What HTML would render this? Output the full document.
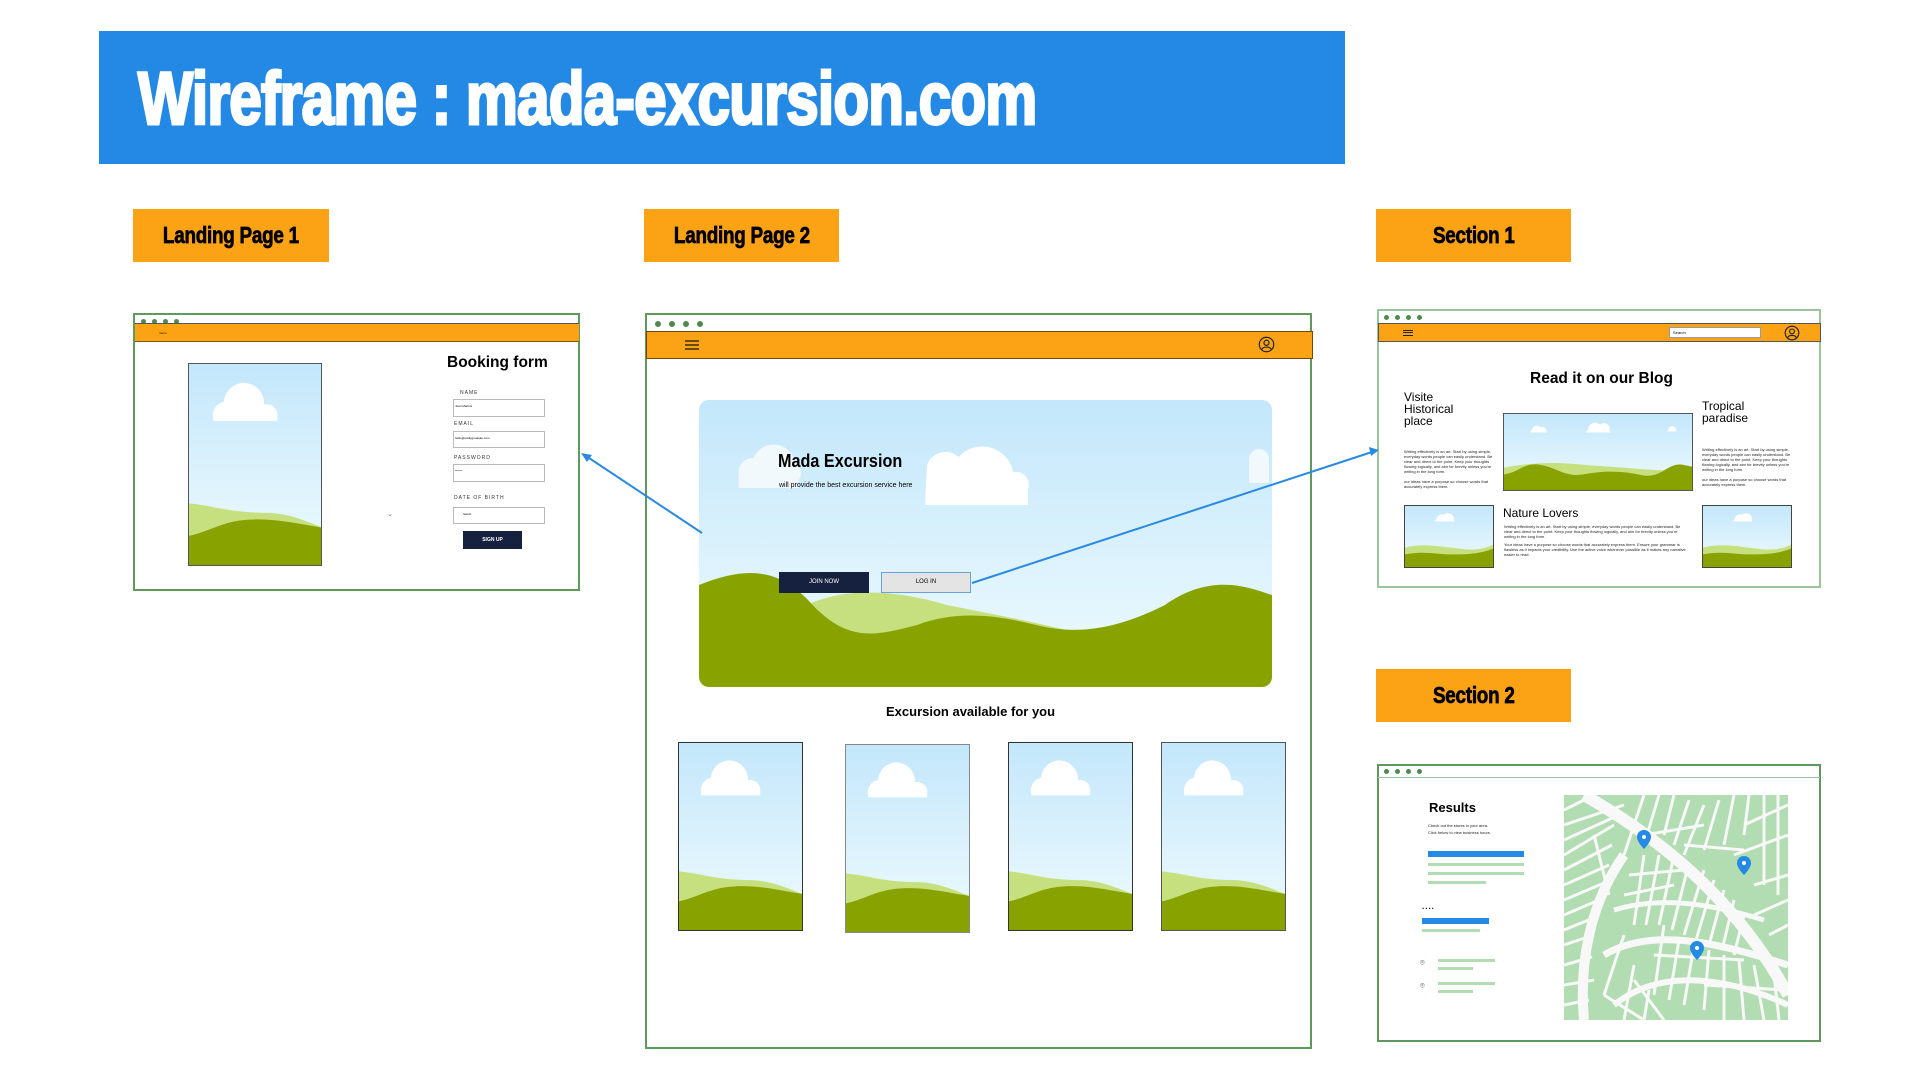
<!DOCTYPE html>
<html><head><meta charset="utf-8"><style>
*{margin:0;padding:0;box-sizing:border-box}
body{width:1920px;height:1080px;background:#fff;position:relative;overflow:hidden;font-family:"Liberation Sans",sans-serif}
.a{position:absolute}
.lbl{position:absolute;background:#fba314;height:53px;display:flex;align-items:center;justify-content:center}
.lbl span{font-weight:bold;font-size:23px;color:#000;display:inline-block;transform:scaleX(.82);letter-spacing:-.3px;-webkit-text-stroke:.7px #000}
.frame{position:absolute;border:2px solid #5e9a5e;background:#fff}
.dots{position:absolute;display:flex;gap:6px}
.dots i{width:5px;height:5px;border-radius:50%;background:#4e8a4e;display:block}
.bar{position:absolute;background:#fba314;border-top:1px solid #555;border-bottom:1px solid #7a5a10}
.inp{position:absolute;border:1px solid #bbb;background:#fff;font-size:3px;padding:4px 1px}
.flab{position:absolute;font-size:5px;letter-spacing:1px;color:#333}
.g{position:absolute;background:#b2dcb2}
.b{position:absolute;background:#248ae6}
.tiny{position:absolute;font-size:4px;line-height:5px;color:#222}
</style></head><body>
<svg width="0" height="0" style="position:absolute">
<defs>
<linearGradient id="sky" x1="0" y1="0" x2="0" y2="1"><stop offset="0" stop-color="#c3e7fb"/><stop offset="1" stop-color="#f0fbfe"/></linearGradient>
<symbol id="port" viewBox="0 0 100 150" preserveAspectRatio="none">
<rect width="100" height="150" fill="url(#sky)"/>
<path d="M18 40a10 10 0 0 1 8-12a15 15 0 0 1 30 2a8 8 0 0 1 10 9v3H18z" fill="#fff"/>
<path d="M0 103 C20 105 30 110 60 110 C75 111 85 115 100 121 V150 H0z" fill="#c6e07f"/>
<path d="M0 127 C15 124 25 116 45 115 C65 114 80 118 100 121 V150 H0z" fill="#88a300"/>
</symbol>
<symbol id="land" viewBox="0 0 190 78" preserveAspectRatio="none">
<rect width="190" height="78" fill="url(#sky)"/>
<path d="M85 16a7 7 0 0 1 12-5a6 6 0 0 1 10 4v4H82z" fill="#fff"/>
<path d="M28 17a5 5 0 0 1 9-3a4 4 0 0 1 6 3v2H26z" fill="#fff"/>
<path d="M166 17a4 4 0 0 1 8-1v2h-10z" fill="#fff"/>
<path d="M0 55 C40 48 60 50 90 53 C130 55 160 60 190 57 V78 H0z" fill="#c6e07f"/>
<path d="M0 62 C15 60 20 50 35 52 C55 55 60 65 80 62 C100 58 120 58 140 63 C160 66 165 50 180 52 L190 54 V78 H0z" fill="#88a300"/>
</symbol>
<symbol id="small" viewBox="0 0 90 63" preserveAspectRatio="none">
<rect width="90" height="63" fill="url(#sky)"/>
<path d="M32 14a6 6 0 0 1 8-5a6 6 0 0 1 10 4v3H30z" fill="#fff"/>
<path d="M0 43 C20 38 35 42 55 44 C70 46 80 45 90 40 V63 H0z" fill="#c6e07f"/>
<path d="M0 50 C20 46 30 50 50 50 C70 50 80 48 90 44 V63 H0z" fill="#88a300"/>
</symbol>
<symbol id="user" viewBox="0 0 20 20"><circle cx="10" cy="10" r="8.5" fill="none" stroke="#222" stroke-width="1.4"/><circle cx="10" cy="8" r="3" fill="none" stroke="#222" stroke-width="1.4"/><path d="M4.5 16c1-4 10-4 11 0" fill="none" stroke="#222" stroke-width="1.4"/></symbol>
</defs></svg>

<!-- banner -->
<div class="a" style="left:99px;top:31px;width:1246px;height:133px;background:#2389e4"></div>
<div class="a" style="left:138px;top:62px;white-space:nowrap;color:#fff;font-weight:bold;font-size:74px;line-height:74px;transform-origin:left top;transform:scaleX(.79);letter-spacing:-1px;-webkit-text-stroke:3px #fff">Wireframe : mada-excursion.com</div>

<div class="lbl" style="left:133px;top:209px;width:196px"><span>Landing Page 1</span></div>
<div class="lbl" style="left:644px;top:209px;width:195px"><span>Landing Page 2</span></div>
<div class="lbl" style="left:1376px;top:209px;width:195px"><span>Section 1</span></div>
<div class="lbl" style="left:1376px;top:669px;width:195px"><span>Section 2</span></div>

<!-- LP1 -->
<div class="frame" style="left:133px;top:313px;width:447px;height:278px"></div>
<div class="dots" style="left:141px;top:319px"><i></i><i></i><i></i><i></i></div>
<div class="bar" style="left:135px;top:323px;width:444px;height:19px"></div>
<div class="a" style="left:159px;top:331px;font-size:3px">menu</div>
<svg class="a" style="left:188px;top:363px;border:1px solid #555" width="134" height="203"><use href="#port" width="134" height="203"/></svg>
<div class="a" style="left:447px;top:354px;font-size:15.5px;font-weight:bold">Booking form</div>
<div class="flab" style="left:460px;top:390px">NAME</div>
<div class="inp" style="left:453px;top:399px;width:92px;height:18px">Joan Martins</div>
<div class="flab" style="left:454px;top:421px">EMAIL</div>
<div class="inp" style="left:453px;top:431px;width:92px;height:17px">hello@reallygreatsite.com</div>
<div class="flab" style="left:454px;top:455px">PASSWORD</div>
<div class="inp" style="left:453px;top:464px;width:92px;height:18px">******</div>
<div class="flab" style="left:454px;top:495px">DATE OF BIRTH</div>
<div class="inp" style="left:453px;top:507px;width:92px;height:17px;padding-left:9px">Select</div>
<div class="a" style="left:387px;top:510px;font-size:7px;color:#777">⌄</div>
<div class="a" style="left:463px;top:531px;width:59px;height:18px;background:#15213e;color:#fff;font-size:5px;font-weight:bold;text-align:center;line-height:18px">SIGN UP</div>

<!-- LP2 -->
<div class="frame" style="left:645px;top:313px;width:667px;height:736px"></div>
<div class="dots" style="left:655px;top:321px;gap:8px"><i style="width:6px;height:6px"></i><i style="width:6px;height:6px"></i><i style="width:6px;height:6px"></i><i style="width:6px;height:6px"></i></div>
<div class="bar" style="left:646px;top:331px;width:667px;height:28px;border:1px solid #6a4a10"></div>
<div class="a" style="left:685px;top:340px;width:14px;height:10px;border-top:2px solid #6a4a10;border-bottom:2px solid #6a4a10"></div>
<div class="a" style="left:685px;top:344px;width:14px;height:2px;background:#6a4a10"></div>
<svg class="a" style="left:1258px;top:336px" width="17" height="17"><use href="#user"/></svg>
<svg class="a" style="left:699px;top:400px" width="573" height="287" viewBox="0 0 578 287" preserveAspectRatio="none">
<defs><clipPath id="hc"><rect width="578" height="287" rx="10"/></clipPath></defs>
<g clip-path="url(#hc)">
<rect width="578" height="287" fill="url(#sky)"/>
<path d="M40 70a14 14 0 0 1 15-12a22 22 0 0 1 42 5a12 12 0 0 1 3 18v7H40z" fill="#f2f9fd"/>
<path d="M230 65a20 20 0 0 1 32-8a32 32 0 0 1 55 15a13 13 0 0 1 15 17v16H228z" fill="#fff"/>
<path d="M555 62a10 10 0 0 1 20-5v26h-20z" fill="#f2f9fd"/>
<path d="M100 210 C140 185 200 190 250 205 C300 215 330 220 370 230 L380 300 H0z" fill="#c6e07f"/>
<path d="M0 185 C50 165 80 170 110 200 C150 245 180 235 220 225 C260 210 300 215 340 225 C380 235 420 230 470 205 C520 170 560 190 578 195 V287 H0z" fill="#88a300"/>
</g></svg>
<div class="a" style="left:778px;top:451px;font-size:18px;font-weight:bold;transform-origin:left;transform:scaleX(.9);white-space:nowrap">Mada Excursion</div>
<div class="a" style="left:779px;top:482px;font-size:7px;white-space:nowrap">will provide the best excursion service here</div>
<div class="a" style="left:779px;top:572px;width:90px;height:21px;background:#15213e;color:#fff;font-size:6px;text-align:center;line-height:21px">JOIN NOW</div>
<div class="a" style="left:881px;top:572px;width:90px;height:21px;background:#e4e4e4;border:1px solid #6aa0e0;font-size:6px;text-align:center;line-height:19px">LOG IN</div>
<div class="a" style="left:886px;top:704px;font-size:13px;font-weight:bold;white-space:nowrap">Excursion available for you</div>
<svg class="a" style="left:678px;top:742px;border:1px solid #333" width="125" height="189"><use href="#port" width="123" height="187"/></svg>
<svg class="a" style="left:845px;top:744px;border:1px solid #888" width="125" height="189"><use href="#port" width="123" height="187"/></svg>
<svg class="a" style="left:1008px;top:742px;border:1px solid #333" width="125" height="189"><use href="#port" width="123" height="187"/></svg>
<svg class="a" style="left:1161px;top:742px;border:1px solid #555" width="125" height="189"><use href="#port" width="123" height="187"/></svg>

<!-- Section 1 -->
<div class="frame" style="left:1377px;top:309px;width:444px;height:279px;border-color:#9cc49c"></div>
<div class="dots" style="left:1384px;top:315px"><i></i><i></i><i></i><i></i></div>
<div class="bar" style="left:1378px;top:323px;width:443px;height:19px;border:1px solid #555"></div>
<div class="a" style="left:1403px;top:330px;width:10px;height:6px;border-top:1px solid #222;border-bottom:1px solid #222"></div>
<div class="a" style="left:1403px;top:332px;width:10px;height:1px;background:#222"></div>
<div class="a" style="left:1669px;top:327px;width:92px;height:11px;background:#fff;border:1px solid #999;font-size:4px;padding:2px 3px">Search</div>
<svg class="a" style="left:1784px;top:325px" width="16" height="16"><use href="#user"/></svg>
<div class="a" style="left:1530px;top:370px;font-size:15.5px;font-weight:bold;white-space:nowrap">Read it on our Blog</div>
<div class="a" style="left:1404px;top:391px;font-size:12px;line-height:12px">Visite<br>Historical<br>place</div>
<div class="a" style="left:1702px;top:400px;font-size:12px;line-height:12px">Tropical<br>paradise</div>
<svg class="a" style="left:1503px;top:413px;border:1px solid #555" width="190" height="78"><use href="#land" width="188" height="76"/></svg>
<div class="tiny" style="left:1404px;top:449px;width:90px">Writing effectively is an art. Start by using simple, everyday words people can easily understand. Be clear and direct to the point. Keep your thoughts flowing logically, and aim for brevity unless you're writing in the long form.<br><br>our ideas have a purpose so choose words that accurately express them.</div>
<div class="tiny" style="left:1702px;top:447px;width:90px">Writing effectively is an art. Start by using simple, everyday words people can easily understand. Be clear and direct to the point. Keep your thoughts flowing logically, and aim for brevity unless you're writing in the long form.<br><br>our ideas have a purpose so choose words that accurately express them.</div>
<svg class="a" style="left:1404px;top:505px;border:1px solid #444" width="90" height="63"><use href="#small" width="88" height="61"/></svg>
<svg class="a" style="left:1702px;top:505px;border:1px solid #444" width="90" height="63"><use href="#small" width="88" height="61"/></svg>
<div class="a" style="left:1503px;top:506px;font-size:12px">Nature Lovers</div>
<div class="tiny" style="left:1504px;top:524px;width:182px">Writing effectively is an art. Start by using simple, everyday words people can easily understand. Be clear and direct to the point. Keep your thoughts flowing logically, and aim for brevity unless you're writing in the long form.</div>
<div class="tiny" style="left:1504px;top:542px;width:182px">Your ideas have a purpose so choose words that accurately express them. Ensure your grammar is flawless as it impacts your credibility. Use the active voice whenever possible as it makes any narrative easier to read.</div>

<!-- Section 2 -->
<div class="frame" style="left:1377px;top:764px;width:444px;height:278px;border-color:#5e9a5e"></div>
<div class="dots" style="left:1384px;top:769px"><i></i><i></i><i></i><i></i></div>
<div class="a" style="left:1378px;top:777px;width:442px;height:1px;background:#9cc49c"></div>
<div class="a" style="left:1429px;top:800px;font-size:13px;font-weight:bold">Results</div>
<div class="tiny" style="left:1428px;top:822px;line-height:7px">Check out the stores in your area.<br>Click below to view business hours.</div>
<div class="b" style="left:1428px;top:851px;width:96px;height:6px"></div>
<div class="g" style="left:1428px;top:863px;width:96px;height:3px"></div>
<div class="g" style="left:1428px;top:872px;width:96px;height:3px"></div>
<div class="g" style="left:1428px;top:881px;width:58px;height:3px"></div>
<div class="a" style="left:1422px;top:902px;font-size:8px;letter-spacing:1px;font-weight:bold">....</div>
<div class="b" style="left:1422px;top:918px;width:67px;height:6px"></div>
<div class="g" style="left:1422px;top:929px;width:58px;height:3px"></div>
<div class="a" style="left:1420px;top:958px;font-size:8px;color:#555">⌾</div>
<div class="a" style="left:1420px;top:981px;font-size:8px;color:#555">⌾</div>
<div class="g" style="left:1438px;top:959px;width:57px;height:3px"></div>
<div class="g" style="left:1438px;top:967px;width:35px;height:3px"></div>
<div class="g" style="left:1438px;top:982px;width:57px;height:3px"></div>
<div class="g" style="left:1438px;top:990px;width:35px;height:3px"></div>
<svg class="a" style="left:1564px;top:795px" width="224" height="225" viewBox="0 0 224 225">
<rect width="224" height="225" fill="#b2dcb2"/>
<g stroke="#f8f8f8" fill="none">
<path d="M20 0 C90 40 170 100 224 200" stroke-width="12"/>
<path d="M60 60 C25 110 15 170 20 225" stroke-width="10"/>
<path d="M40 160 C90 130 160 150 224 170" stroke-width="7"/>
<path d="M50 210 C100 170 170 185 224 210" stroke-width="6"/>
<path d="M50 115 C100 100 150 110 200 125" stroke-width="5"/>
<g stroke-width="3">
<path d="M0 30 L60 10 M0 60 L50 30 M0 90 L45 70 M0 120 L35 105 M0 150 L30 140 M0 190 L30 185 M0 15 L30 0 M0 45 L55 20 M0 75 L48 50 M0 105 L40 88 M0 135 L32 122 M0 170 L28 162 M0 210 L25 205"/>
<path d="M80 0 L60 60 M110 0 L100 40 M140 10 L120 60 M170 0 L160 50 M200 0 L200 90 M180 30 L224 10 M170 60 L224 40 M190 90 L224 80 M95 0 L80 50 M125 5 L110 50 M155 5 L140 55 M185 0 L180 40 M214 0 L214 100 M190 120 L224 105 M205 140 L224 130"/>
<path d="M80 60 L70 130 M110 60 L95 130 M140 75 L120 140 M160 95 L145 150 M180 120 L170 160 M100 130 L90 200 M130 150 L120 210 M160 160 L160 225 M190 170 L200 225 M95 60 L82 130 M125 68 L108 135 M150 85 L132 145 M170 105 L158 155 M115 145 L105 205 M145 155 L140 215 M175 165 L180 225 M210 180 L215 225"/>
<path d="M40 200 L80 225 M70 185 L100 225 M60 100 L110 90 M80 40 L140 30 M120 50 L180 55 M60 140 L40 200 M70 170 L60 225 M85 195 L80 225 M30 40 L45 100 M65 80 L120 75 M90 160 L180 165 M140 190 L220 195"/>
</g></g>
<g fill="#248ae6">
<path d="M73 42a7 7 0 0 1 14 0c0 5-7 12-7 12s-7-7-7-12z"/><circle cx="80" cy="42" r="2" fill="#fff"/>
<path d="M173 68a7 7 0 0 1 14 0c0 5-7 12-7 12s-7-7-7-12z"/><circle cx="180" cy="68" r="2" fill="#fff"/>
<path d="M126 153a7 7 0 0 1 14 0c0 5-7 12-7 12s-7-7-7-12z"/><circle cx="133" cy="153" r="2" fill="#fff"/>
</g></svg>

<!-- connectors -->
<svg class="a" style="left:0;top:0" width="1920" height="1080">
<g stroke="#2a8ae0" stroke-width="2" fill="none">
<line x1="702" y1="533" x2="586" y2="456"/>
<line x1="972" y1="583" x2="1372" y2="452"/>
</g>
<path d="M581 453 L592 455 L587 462z" fill="#2a8ae0"/>
<path d="M1379 450 L1369 447 L1371 456z" fill="#2a8ae0"/>
</svg>
</body></html>
